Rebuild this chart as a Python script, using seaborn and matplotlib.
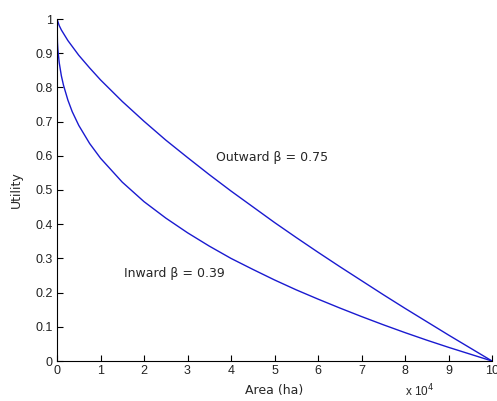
import numpy as np
import pandas as pd
import matplotlib
matplotlib.use("Agg")
import matplotlib.pyplot as plt
import seaborn as sns

# Area in units of 10^4 ha
area_outward = [0, 0.05, 0.1, 0.25, 0.5, 0.75, 1, 1.5, 2, 2.5, 3, 3.5, 4, 4.5, 5,
                5.5, 6, 6.5, 7, 7.5, 8, 8.5, 9, 9.5, 10]
utility_outward = [1.0, 0.981, 0.968, 0.937, 0.894, 0.857, 0.822, 0.759, 0.701,
                   0.646, 0.595, 0.545, 0.497, 0.451, 0.405, 0.361, 0.318, 0.276,
                   0.235, 0.194, 0.154, 0.115, 0.076, 0.038, 0.0]

area_inward = [0, 0.01, 0.02, 0.05, 0.1, 0.15, 0.25, 0.35, 0.5, 0.75, 1, 1.5, 2,
               2.5, 3, 3.5, 4, 4.5, 5, 5.5, 6, 6.5, 7, 7.5, 8, 8.5, 9, 9.5, 10]
utility_inward = [1.0, 0.932, 0.911, 0.873, 0.834, 0.806, 0.763, 0.729, 0.689,
                  0.636, 0.593, 0.523, 0.466, 0.418, 0.375, 0.336, 0.300, 0.268,
                  0.237, 0.208, 0.181, 0.155, 0.130, 0.106, 0.083, 0.061, 0.040,
                  0.020, 0.0]

x_ticks = [0, 1, 2, 3, 4, 5, 6, 7, 8, 9, 10]
y_ticks = [0, 0.1, 0.2, 0.3, 0.4, 0.5, 0.6, 0.7, 0.8, 0.9, 1]
y_tick_labels = ["0", "0.1", "0.2", "0.3", "0.4", "0.5", "0.6", "0.7", "0.8", "0.9", "1"]

df = pd.concat([
    pd.DataFrame({"area": np.array(area_outward) * 1e4, "utility": utility_outward, "curve": "Outward"}),
    pd.DataFrame({"area": np.array(area_inward) * 1e4, "utility": utility_inward, "curve": "Inward"}),
])

sns.set_style("ticks")
plt.rcParams["font.family"] = ["DejaVu Sans"]
plt.rcParams["xtick.direction"] = "in"
plt.rcParams["ytick.direction"] = "in"

fig = plt.figure(figsize=(4.97, 4.01), dpi=100)
ax = fig.add_axes([57 / 497, 1 - 361 / 401, 435 / 497, 342 / 401])

sns.lineplot(data=df, x="area", y="utility", hue="curve", sort=False,
             palette={"Outward": "#1a1ad0", "Inward": "#1a1ad0"},
             linewidth=1.0, legend=False, ax=ax, estimator=None)

ax.set_xlim(0, 1e5)
ax.set_ylim(0, 1)
ax.set_xticks([t * 1e4 for t in x_ticks])
ax.set_xticklabels([str(t) for t in x_ticks])
ax.set_yticks(y_ticks)
ax.set_yticklabels(y_tick_labels)

for lab in ax.get_xticklabels() + ax.get_yticklabels():
    lab.set_fontfamily(["Liberation Sans"])
    lab.set_fontsize(9)
    lab.set_color("#222222")
ax.tick_params(length=4, width=0.8, color="black", pad=3)

sns.despine(ax=ax)
for s in ("left", "bottom"):
    ax.spines[s].set_color("black")
    ax.spines[s].set_linewidth(0.8)

ax.set_xlabel("Area (ha)", fontsize=9, labelpad=5)
ax.set_ylabel("Utility", fontsize=9, labelpad=9)

ax.text(3.66e4, 0.594, "Outward β = 0.75", fontsize=9, va="center", ha="left")
ax.text(1.54e4, 0.257, "Inward β = 0.39", fontsize=9, va="center", ha="left")

fig.text(405 / 497, 1 - 391 / 401, r"x 10$^{4}$", fontsize=8.5,
         family=["Liberation Sans"], va="center", ha="left")

fig.savefig("out.png", dpi=100)
